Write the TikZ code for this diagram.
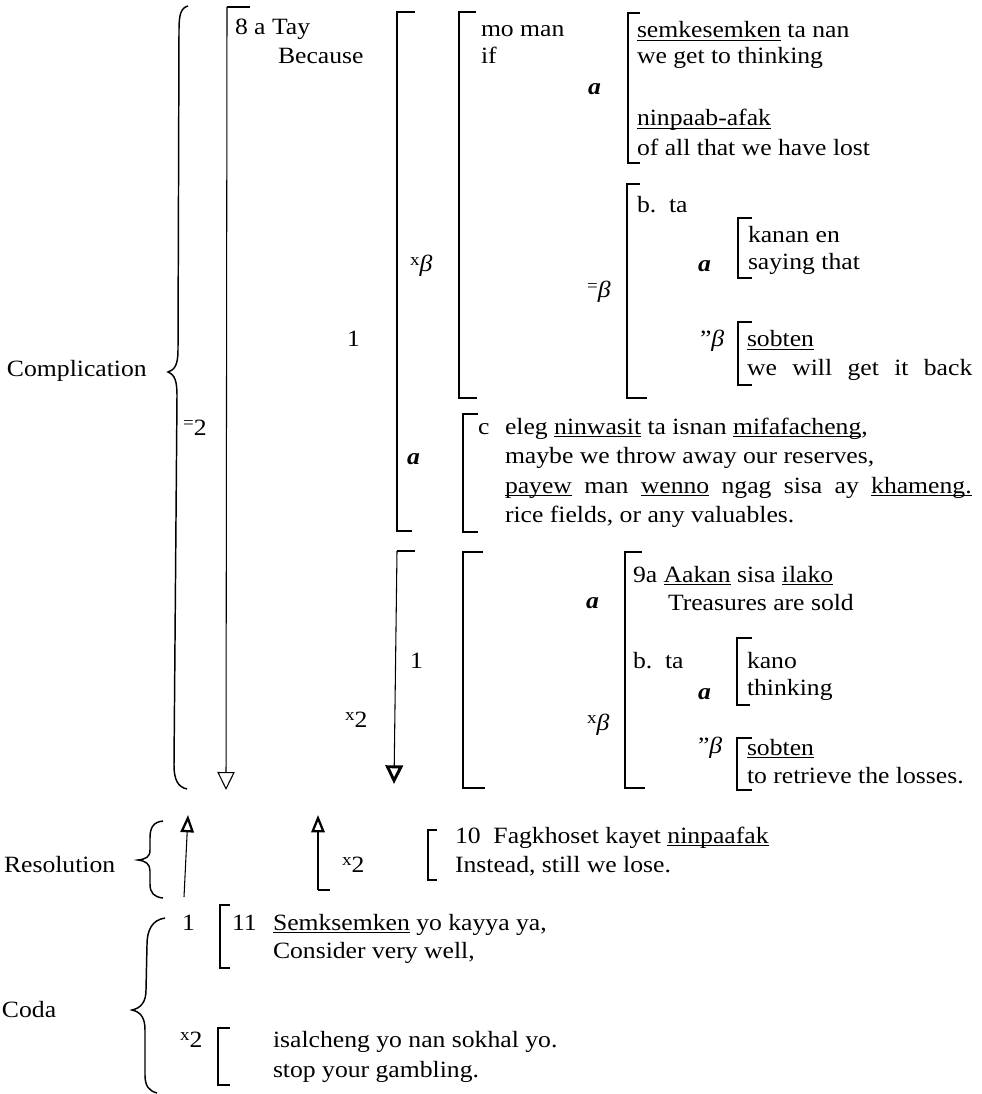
\documentclass[tikz,border=0pt]{standalone}
\usepackage{fontspec}
\setmainfont[FakeStretch=1.1]{Liberation Serif}
\usetikzlibrary{arrows.meta}
\newcommand\ulw[1]{\setbox0\hbox{#1}\rlap{\rule[-2.6pt]{\wd0}{0.75pt}}\box0\relax}
\newcommand\sx[1]{\raisebox{5pt}{\fontsize{13}{13}\selectfont #1}}
\newcommand\ita{\textit{\textbf{a}}}
\begin{document}
\begin{tikzpicture}[x=0.75pt,y=-0.75pt,
  every node/.style={anchor=base west,inner sep=0pt,outer sep=0pt,font=\fontsize{17.5}{20}\selectfont},
  brk/.style={line width=1pt},
  stem/.style={line width=0.8pt},
  brace/.style={line width=1.1pt}]
\useasboundingbox (0,0) rectangle (981,1094);

% ---------- braces ----------
\draw[brace] (188,6) .. controls (181,8) and (179,14) .. (179,30) -- (178,350)
  .. controls (178,364) and (175,370) .. (168,372) .. controls (175,375) and (177,381) .. (177,396)
  -- (174,765) .. controls (174,780) and (178,787) .. (187,789);
\draw[brace] (163,821) .. controls (153,822) and (150,828) .. (150,838) -- (150,850)
  .. controls (150,857) and (146,859) .. (138,860) .. controls (146,861) and (150,864) .. (150,871)
  -- (150,884) .. controls (150,893) and (154,897) .. (163,898);
\draw[brace] (165,918) .. controls (152,920) and (147,930) .. (147,945) -- (146,990)
  .. controls (146,1002) and (141,1008) .. (132,1010) .. controls (141,1012) and (145,1018) .. (145,1030)
  -- (145,1075) .. controls (145,1086) and (149,1091) .. (157,1093);

% ---------- arrow stems ----------
\coordinate (a1top) at (227,7);
\coordinate (a1tip) at (226,790);
\draw[brk] (250,7) -- (a1top);
\draw[stem,-{Triangle[open,length=13.5pt,width=13pt]}] (a1top) -- (a1tip);

\coordinate (a2top) at (397,551);
\coordinate (a2tip) at (394,784);
\draw[brk] (415,551) -- (a2top);
\draw[stem,-{Triangle[open,length=14pt,width=13pt,line width=2.2pt]}] (a2top) -- (a2tip);

\coordinate (u1bot) at (184,897);
\coordinate (u1tip) at (188,815);
\draw[stem,-{Triangle[open,length=13pt,width=10pt,line width=1.7pt]}] (u1bot) -- (u1tip);

\coordinate (u2bot) at (318,890);
\coordinate (u2tip) at (318,815);
\draw[brk] (330,890) -- (u2bot);
\draw[stem,-{Triangle[open,length=13pt,width=10pt,line width=1.7pt]}] (u2bot) -- (u2tip);

% ---------- brackets ----------
\draw[brk] (415,12) -- (397,12) -- (397,531) -- (412,531);
\draw[brk] (476,12) -- (459,12) -- (459,398) -- (477,398);
\draw[brk] (478,414) -- (463,414) -- (463,532) -- (478,532);
\draw[brk] (483,552) -- (463,552) -- (463,788) -- (485,788);
\draw[brk] (640,13) -- (628,13) -- (628,163) -- (640,163);
\draw[brk] (640,184) -- (627,184) -- (627,398) -- (647,398);
\draw[brk] (752,218) -- (738,218) -- (738,278) -- (752,278);
\draw[brk] (752,322) -- (738,322) -- (738,385) -- (752,385);
\draw[brk] (642,552) -- (625,552) -- (625,788) -- (645,788);
\draw[brk] (752,638) -- (737,638) -- (737,705) -- (750,705);
\draw[brk] (752,738) -- (737,738) -- (737,790) -- (752,790);
\draw[brk] (437,830) -- (428,830) -- (428,880) -- (437,880);
\draw[brk] (230,905) -- (220,905) -- (220,968) -- (230,968);
\draw[brk] (230,1028) -- (218,1028) -- (218,1085) -- (230,1085);

% ---------- texts ----------
\node (complication) at (7,377) {Complication};
\node (eq2) at (183,435) {\sx{=}2};
\node (l8a) at (235,35) {8 a Tay};
\node (because) at (278,64) {Because};
\node (one1) at (347,347) {1};
\node (xb1) at (410,272) {\sx{x}\textit{β}};
\node (a1) at (407,464) {\ita};
\node (one2) at (410,668) {1};
\node (x2a) at (345,727) {\sx{x}2};
\node (moman) at (481,37) {mo man};
\node (if) at (481,64) {if};
\node (a2) at (588,95) {\ita};
\node (semk) at (637,38) {\ulw{semkesemken} ta nan};
\node (wget) at (637,64) {we get to thinking};
\node (ninp) at (637,126) {\ulw{ninpaab-afak}};
\node (ofall) at (637,156) {of all that we have lost};
\node (eqb) at (587,298) {\sx{=}\textit{β}};
\node (bta1) at (637,213) {b.\ \ ta};
\node (a3) at (698,272) {\ita};
\node (kanan) at (748,243) {kanan en};
\node (saying) at (748,270) {saying that};
\node (qb1) at (700,347) {”\textit{β}};
\node (sobten1) at (747,347) {\ulw{sobten}};
\node (wewill) at (747,375) {\makebox[169pt][s]{we will get it back}};
\node (c) at (478,434) {c};
\node (cl1) at (505,434) {eleg \ulw{ninwasit} ta isnan \ulw{mifafacheng},};
\node (cl2) at (505,463) {maybe we throw away our reserves,};
\node (cl3) at (505,493) {\makebox[350pt][s]{\ulw{payew} man \ulw{wenno} ngag sisa ay \ulw{khameng.}}};
\node (cl4) at (505,522) {rice fields, or any valuables.};
\node (a4) at (586,608) {\ita};
\node (l9a) at (633,582) {9a \ulw{Aakan} sisa \ulw{ilako}};
\node (treas) at (668,610) {Treasures are sold};
\node (bta2) at (633,668) {b.\ \ ta};
\node (kano) at (747,668) {kano};
\node (thinking) at (747,695) {thinking};
\node (a5) at (698,699) {\ita};
\node (xb2) at (587,730) {\sx{x}\textit{β}};
\node (qb2) at (698,753) {”\textit{β}};
\node (sobten2) at (747,755) {\ulw{sobten}};
\node (retrieve) at (747,783) {to retrieve the losses.};
\node (resolution) at (4,872) {Resolution};
\node (x2b) at (342,872) {\sx{x}2};
\node (l10) at (455,843) {10\ \ Fagkhoset kayet \ulw{ninpaafak}};
\node (instead) at (455,872) {Instead, still we lose.};
\node (coda) at (2,1017) {Coda};
\node (one3) at (182,930) {1};
\node (l11) at (232,930) {11};
\node (semk2) at (273,930) {\ulw{Semksemken} yo kayya ya,};
\node (consider) at (273,958) {Consider very well,};
\node (x2c) at (180,1047) {\sx{x}2};
\node (isal) at (273,1047) {isalcheng yo nan sokhal yo.};
\node (stop) at (273,1077) {stop your gambling.};
\end{tikzpicture}
\end{document}
